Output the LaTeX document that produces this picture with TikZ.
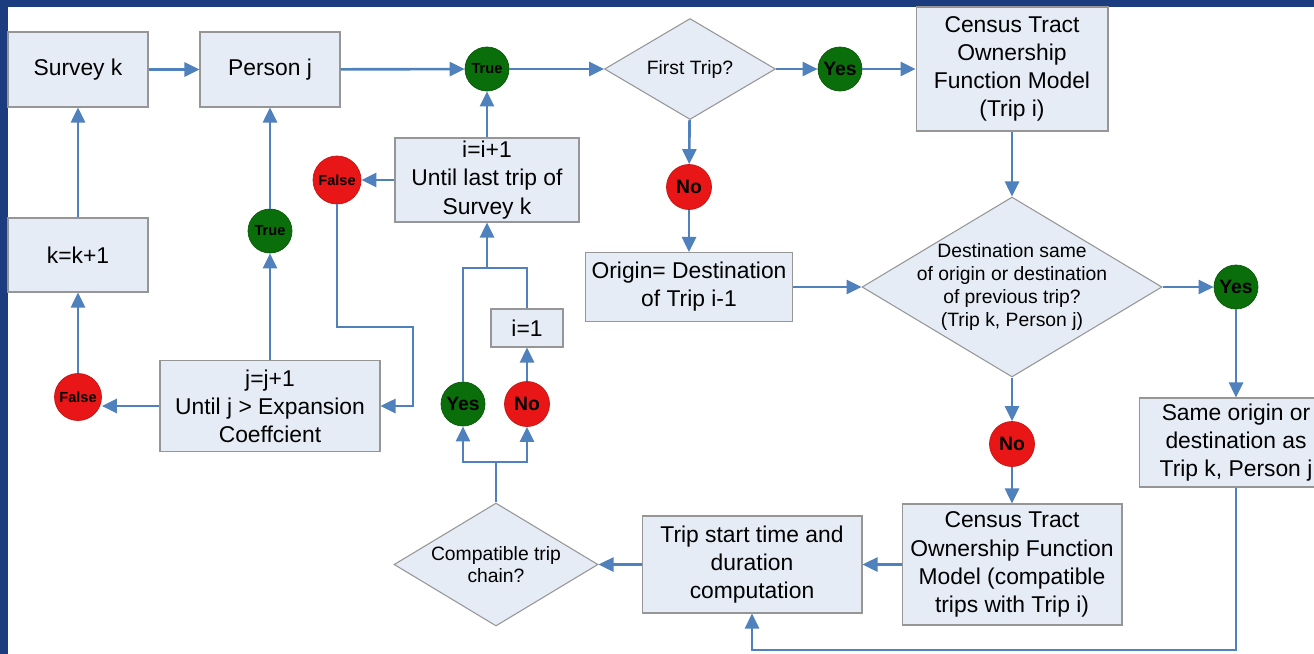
\documentclass[tikz,border=0pt]{standalone}
\usepackage{fontspec}
\setmainfont{Liberation Sans}
\usepackage{tikz}
\usetikzlibrary{arrows.meta,shapes.geometric}

\definecolor{frameblue}{RGB}{27,61,128}
\definecolor{boxfill}{RGB}{230,236,246}
\definecolor{boxline}{RGB}{150,150,150}
\definecolor{linkblue}{RGB}{79,129,189}
\definecolor{okgreen}{RGB}{10,110,10}
\definecolor{badred}{RGB}{232,22,22}

\begin{document}
\begin{tikzpicture}[
  x=0.02cm, y=-0.02cm,
  box/.style={draw=boxline, fill=boxfill, line width=0.6pt, align=center, inner sep=1pt, font=\fontsize{13}{16}\selectfont},
  dia/.style={diamond, aspect=1.7, draw=boxline, fill=boxfill, line width=0.6pt, align=center, inner sep=-4pt, font=\fontsize{11}{13}\selectfont},
  okdot/.style={circle, fill=okgreen, draw=okgreen!80!black, minimum size=0.88cm, inner sep=0pt, font=\fontsize{11}{12}\bfseries\selectfont},
  baddot/.style={circle, fill=badred, draw=badred!85!black, minimum size=0.9cm, inner sep=0pt, font=\fontsize{11}{12}\bfseries\selectfont},
  tinylab/.style={font=\fontsize{8.3}{10}\bfseries\selectfont},
  ar/.style={draw=linkblue, line width=1.5pt, -{Triangle[length=3mm,width=2.8mm]}},
  ln/.style={draw=linkblue, line width=1.5pt},
]
\useasboundingbox (0,0) rectangle (1314,653);
% frame
\fill[frameblue] (-5,-5) rectangle (1320,660);
\fill[white] (8,7) rectangle (1330,670);
% outer loops (survey, person)
\node[box, minimum width=2.8cm, minimum height=1.5cm] (survey) at (78,69.5) {Survey k};
\node[box, minimum width=2.8cm, minimum height=1.5cm] (person) at (270,69.5) {Person j};
\node[box, minimum width=2.8cm, minimum height=1.48cm] (kinc) at (78,255) {k=k+1};
\node[okdot, tinylab] (truej) at (270,231) {True};
\node[baddot, tinylab, minimum size=0.94cm] (falsek) at (78,397) {False};
\node[box, minimum width=4.4cm, minimum height=1.82cm] (jinc) at (270,406) {j=j+1\\Until j > Expansion\\Coeffcient};
% trip loop
\node[baddot, tinylab, minimum size=0.96cm] (falsei) at (337,180) {False};
\node[box, minimum width=3.68cm, minimum height=1.68cm] (iinc) at (487,180) {i=i+1\\Until last trip of\\Survey k};
\node[okdot, tinylab] (truei) at (487,69) {True};
\node[dia, minimum width=3.42cm, minimum height=2.02cm] (first) at (690,69) {First Trip?};
\node[okdot] (yesf) at (840,69) {Yes};
\node[box, minimum width=3.84cm, minimum height=2.48cm] (ctract) at (1012,69) {Census Tract\\Ownership\\Function Model\\(Trip i)};
\node[baddot] (nof) at (689,187) {No};
\node[box, minimum width=4.14cm, minimum height=1.38cm] (origin) at (689,287) {Origin= Destination\\of Trip i-1};
\node[dia, inner sep=-20pt, minimum width=6cm, minimum height=3.6cm] (dest) at (1012,287) {Destination same\\of origin or destination\\of previous trip?\\(Trip k, Person j)};
\node[okdot] (yesd) at (1236,287) {Yes};
\node[box, minimum width=3.88cm, minimum height=1.78cm] (same) at (1236,442.5) {Same origin or\\destination as\\Trip k, Person j};
\node[baddot] (nod) at (1012,444) {No};
\node[box, minimum width=4.4cm, minimum height=2.42cm] (ctract2) at (1012,564.5) {Census Tract\\Ownership Function\\Model (compatible\\trips with Trip i)};
\node[box, minimum width=4.4cm, minimum height=1.94cm] (tripst) at (752,564.5) {Trip start time and\\duration\\computation};
\node[dia, minimum width=4.08cm, minimum height=2.46cm] (compat) at (496,564.5) {Compatible trip\\chain?};
\node[okdot] (yesc) at (463,404) {Yes};
\node[baddot] (noc) at (527,404) {No};
\node[box, minimum width=1.44cm, minimum height=0.76cm] (ione) at (527,328) {i=1};
% elbows
\coordinate (br) at (496,462);
\coordinate (mg) at (487,268);
\coordinate (lp) at (413,327);
\coordinate (fb) at (1000,650);
% connectors
\draw[ar] (survey) -- (person);
\draw[ar] (person) -- (truei);
\draw[ar] (truei) -- (first);
\draw[ar] (first) -- (yesf);
\draw[ar] (yesf) -- (ctract);
\draw[ar] (first) -- (nof);
\draw[ar] (nof) -- (origin);
\draw[ar] (ctract) -- (dest);
\draw[ar] (origin) -- (dest);
\draw[ar] (dest) -- (yesd);
\draw[ar] (yesd) -- (same);
\draw[ar] (dest) -- (nod);
\draw[ar] (nod) -- (ctract2);
\draw[ar] (ctract2) -- (tripst);
\draw[ar] (same) |- (fb) -| (tripst);
\draw[ar] (tripst) -- (compat);
\draw[ln] (compat) -- (br);
\draw[ar] (br) -| (yesc);
\draw[ar] (br) -| (noc);
\draw[ar] (noc) -- (ione);
\draw[ln] (yesc) |- (mg);
\draw[ln] (ione) |- (mg);
\draw[ar] (mg) -- (iinc);
\draw[ar] (iinc) -- (truei);
\draw[ar] (iinc) -- (falsei);
\draw[ar] (falsei) |- (lp) |- (jinc);
\draw[ar] (jinc) -- (truej);
\draw[ar] (truej) -- (person);
\draw[ar] (jinc.west) -- (jinc.west -| falsek.east);
\draw[ar] (falsek) -- (kinc);
\draw[ar] (kinc) -- (survey);
\end{tikzpicture}
\end{document}
